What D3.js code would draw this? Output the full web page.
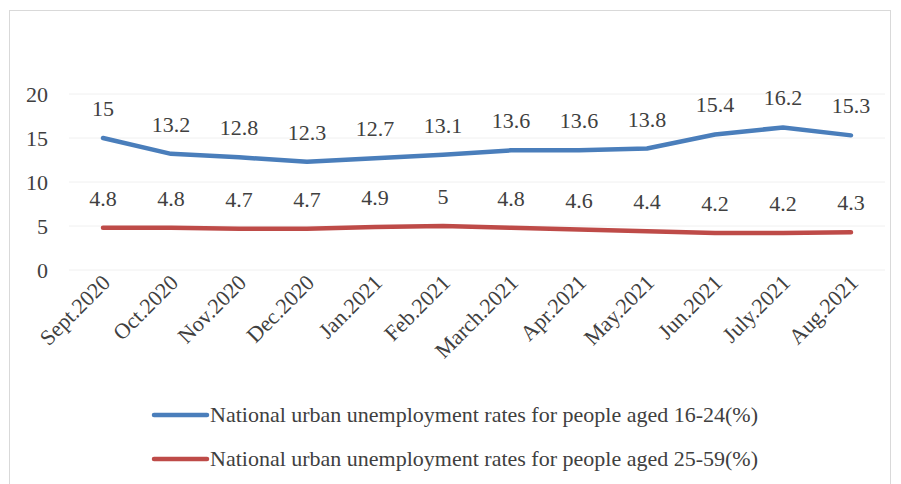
<!DOCTYPE html>
<html><head><meta charset="utf-8">
<script src="https://cdn.jsdelivr.net/npm/d3@7"></script>
</head><body><svg id="c" width="901" height="484"></svg>
<script>
const categories = ["Sept.2020","Oct.2020","Nov.2020","Dec.2020","Jan.2021","Feb.2021","March.2021","Apr.2021","May.2021","Jun.2021","July.2021","Aug.2021"];
const youth = [15,13.2,12.8,12.3,12.7,13.1,13.6,13.6,13.8,15.4,16.2,15.3];
const adult = [4.8,4.8,4.7,4.7,4.9,5,4.8,4.6,4.4,4.2,4.2,4.3];
const yTicks = [0,5,10,15,20];
const seriesNames = ["National urban unemployment rates for people aged 16-24(%)","National urban unemployment rates for people aged 25-59(%)"];
const colors = ["#4a7ebb","#be4b48"];
const FONT = "Times New Roman";

d3.select("body").style("margin","0");
const svg = d3.select("#c");
svg.append("rect").attr("x",9.5).attr("y",10.5).attr("width",881).attr("height",480).attr("fill","#fff").attr("stroke","#d9d9d9");

const x = d3.scalePoint().domain(categories).range([103,851]);
const y = d3.scaleLinear().domain([0,20]).range([270,94]);

svg.append("g").selectAll("line").data(yTicks).join("line")
  .attr("x1",69).attr("x2",885).attr("y1",d=>y(d)).attr("y2",d=>y(d))
  .attr("stroke","#f0f0f0").attr("stroke-width",1);

function styleText(sel){
  sel.attr("font-family",FONT).attr("font-size",22).attr("fill","#404040")
     .style("font-family","'"+FONT+"'").style("font-size","22px");
}

const yAxis = svg.append("g").attr("transform","translate(48,0)").call(d3.axisLeft(y).tickValues(yTicks).tickSize(0).tickPadding(0));
yAxis.attr("font-family",FONT).attr("font-size",22);
yAxis.select(".domain").remove();
yAxis.selectAll("text").call(styleText).attr("dy","0.35em");

const xAxis = svg.append("g").attr("transform","translate(0,278)").call(d3.axisBottom(x).tickSize(0).tickPadding(0));
xAxis.attr("font-family",FONT).attr("font-size",22);
xAxis.select(".domain").remove();
xAxis.selectAll("text").call(styleText)
  .attr("text-anchor","end").attr("dy","0").attr("transform","translate(8,6) rotate(-45)");

const line = d3.line().x((d,i)=>x(categories[i])).y(d=>y(d));
[youth,adult].forEach((s,k)=>{
  svg.append("path").datum(s).attr("d",line).attr("fill","none").attr("stroke",colors[k]).attr("stroke-width",4.5).attr("stroke-linejoin","round").attr("stroke-linecap","round");
  svg.append("g").selectAll("text").data(s).join("text")
    .attr("x",(d,i)=>x(categories[i])).attr("y",d=>y(d)-22)
    .attr("text-anchor","middle").call(styleText).text(d=>d);
});

const leg = svg.append("g");
seriesNames.forEach((n,k)=>{
  const yy = 415 + k*44;
  leg.append("line").attr("x1",154).attr("x2",207).attr("y1",yy).attr("y2",yy).attr("stroke",colors[k]).attr("stroke-width",4.5).attr("stroke-linecap","round");
  leg.append("text").attr("x",210).attr("y",yy).attr("dy","0.33em").call(styleText).text(n);
});
</script></body></html>
